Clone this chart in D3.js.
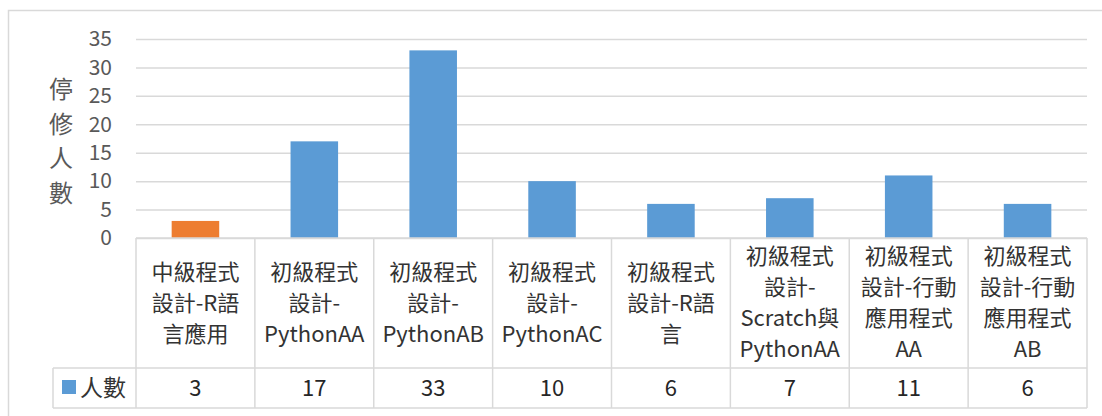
<!DOCTYPE html>
<html>
<head>
<meta charset="utf-8">
<script src="https://cdn.jsdelivr.net/npm/d3@7"></script>
<style>
  html, body { margin: 0; padding: 0; background: #fff; }
  svg text { font-family: "Noto Sans CJK TC", "Noto Sans", sans-serif; }
</style>
</head>
<body>
<svg id="chart" width="1102" height="416"></svg>
<script>
// ---------- data ----------
const categories = [
  "中級程式設計-R語言應用",
  "初級程式設計-PythonAA",
  "初級程式設計-PythonAB",
  "初級程式設計-PythonAC",
  "初級程式設計-R語言",
  "初級程式設計-Scratch與PythonAA",
  "初級程式設計-行動應用程式AA",
  "初級程式設計-行動應用程式AB"
];
// wrapped lines as shown in the data table header
const categoryLines = [
  ["中級程式", "設計-R語", "言應用"],
  ["初級程式", "設計-", "PythonAA"],
  ["初級程式", "設計-", "PythonAB"],
  ["初級程式", "設計-", "PythonAC"],
  ["初級程式", "設計-R語", "言"],
  ["初級程式", "設計-", "Scratch與", "PythonAA"],
  ["初級程式", "設計-行動", "應用程式", "AA"],
  ["初級程式", "設計-行動", "應用程式", "AB"]
];
const values = [3, 17, 33, 10, 6, 7, 11, 6];
const yTicks = [0, 5, 10, 15, 20, 25, 30, 35];
const seriesName = "人數";
const yTitle = ["停", "修", "人", "數"];
const highlightIndex = [0];   // bar drawn in orange

const blue = "#5B9BD5", orange = "#ED7D31", grid = "#D9D9D9";

// ---------- layout ----------
const plotLeft = 136, plotRight = 1087, plotTop = 39, plotBottom = 238;
const headerBottom = 368, tableBottom = 408, legendLeft = 53;

const svg = d3.select("#chart");

// outer chart border
svg.append("rect")
  .attr("x", 8.5).attr("y", 10.5)
  .attr("width", 1120).attr("height", 420)
  .attr("fill", "none").attr("stroke", grid).attr("stroke-width", 1.5);

const x = d3.scaleBand()
  .domain(categories)
  .range([plotLeft, plotRight])
  .paddingInner(0.6)
  .paddingOuter(0.3);

const xCell = d3.scaleBand()
  .domain(categories)
  .range([plotLeft, plotRight]);

const y = d3.scaleLinear()
  .domain([0, 35])
  .range([plotBottom, plotTop]);

// gridlines + y tick labels
const yAxis = d3.axisLeft(y)
  .tickValues(yTicks)
  .tickSize(-(plotRight - plotLeft))
  .tickPadding(24);

const gy = svg.append("g")
  .attr("transform", `translate(${plotLeft},0)`)
  .call(yAxis);
gy.select(".domain").remove();
gy.selectAll(".tick line").attr("stroke", grid).attr("stroke-width", 1.5);
gy.selectAll(".tick text")
  .attr("fill", "#595959")
  .style("font-size", "21px");

// y axis title (stacked characters)
svg.append("g").selectAll("text")
  .data(yTitle)
  .join("text")
  .attr("x", 61)
  .attr("y", (d, i) => 90 + i * 34.5)
  .attr("dy", "0.35em")
  .attr("text-anchor", "middle")
  .attr("fill", "#595959")
  .style("font-size", "24px")
  .text(d => d);

// bars
svg.append("g").selectAll("rect")
  .data(values)
  .join("rect")
  .attr("x", (d, i) => x(categories[i]))
  .attr("y", d => y(d))
  .attr("width", x.bandwidth())
  .attr("height", d => y(0) - y(d))
  .attr("fill", (d, i) => highlightIndex.includes(i) ? orange : blue);

// ---------- data table ----------
const table = svg.append("g")
  .attr("stroke", grid).attr("stroke-width", 1.5).attr("fill", "none");

// horizontal lines
table.append("line")
  .attr("x1", plotLeft).attr("x2", plotRight)
  .attr("y1", plotBottom).attr("y2", plotBottom);
table.append("line")
  .attr("x1", legendLeft).attr("x2", plotRight)
  .attr("y1", headerBottom).attr("y2", headerBottom);
table.append("line")
  .attr("x1", legendLeft).attr("x2", plotRight)
  .attr("y1", tableBottom).attr("y2", tableBottom);
table.append("line")
  .attr("x1", legendLeft).attr("x2", legendLeft)
  .attr("y1", headerBottom).attr("y2", tableBottom);

// vertical lines
const edges = categories.map(c => xCell(c)).concat([plotRight]);
table.selectAll(".v")
  .data(edges)
  .join("line")
  .attr("x1", d => d).attr("x2", d => d)
  .attr("y1", plotBottom).attr("y2", tableBottom);

// category labels
const lineH = 31;
const headerMid = (plotBottom + headerBottom) / 2;
const labels = svg.append("g")
  .attr("fill", "#333")
  .style("font-size", "22px")
  .attr("text-anchor", "middle");

categoryLines.forEach((lines, i) => {
  const cx = xCell(categories[i]) + xCell.bandwidth() / 2;
  const y0 = headerMid - (lines.length - 1) * lineH / 2;
  labels.append("text")
    .selectAll("tspan")
    .data(lines)
    .join("tspan")
    .attr("x", cx)
    .attr("y", (d, j) => y0 + j * lineH)
    .attr("dy", "0.35em")
    .text(d => d);
});

// values row
const rowMid = (headerBottom + tableBottom) / 2;
svg.append("g").selectAll("text")
  .data(values)
  .join("text")
  .attr("x", (d, i) => xCell(categories[i]) + xCell.bandwidth() / 2)
  .attr("y", rowMid)
  .attr("dy", "0.35em")
  .attr("text-anchor", "middle")
  .attr("fill", "#262626")
  .style("font-size", "22px")
  .text(d => d);

// legend key in table
svg.append("rect")
  .attr("x", 62).attr("y", 380)
  .attr("width", 14).attr("height", 14)
  .attr("fill", blue);
svg.append("text")
  .attr("x", 80).attr("y", rowMid)
  .attr("dy", "0.35em")
  .attr("fill", "#333")
  .style("font-size", "23px")
  .text(seriesName);
</script>
</body>
</html>
